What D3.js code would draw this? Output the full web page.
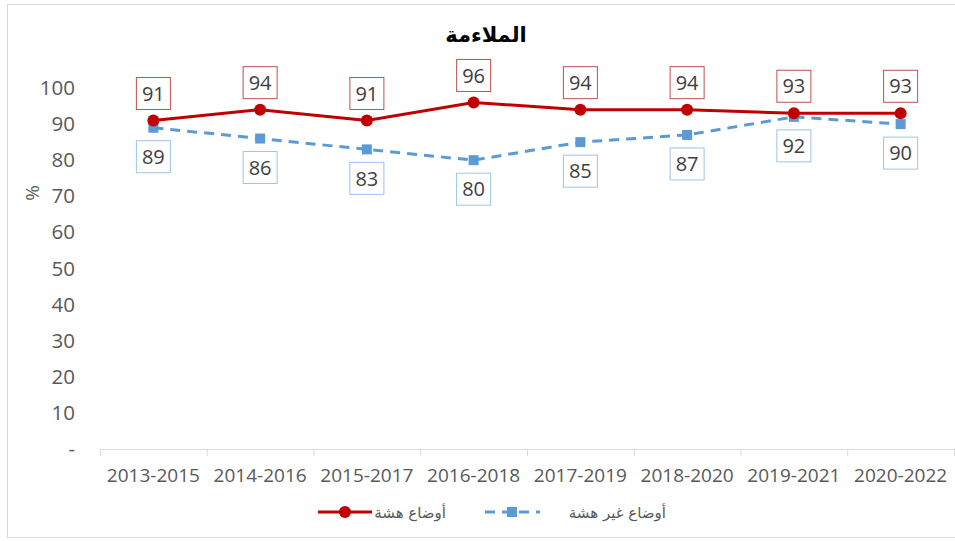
<!DOCTYPE html>
<html><head><meta charset="utf-8">
<script src="https://cdn.jsdelivr.net/npm/d3@7"></script>
<style>body{margin:0;background:#fff}svg{display:block}</style>
</head><body>
<script>
const categories = ["2013-2015","2014-2016","2015-2017","2016-2018","2017-2019","2018-2020","2019-2021","2020-2022"];
const fragile = [91,94,91,96,94,94,93,93];
const nonFragile = [89,86,83,80,85,87,92,90];
const yTicks = [0,10,20,30,40,50,60,70,80,90,100];
const title = "الملاءمة";
const seriesNames = ["أوضاع هشة","أوضاع غير هشة"];

const W=955,H=541;
const svg=d3.select("body").append("svg").attr("width",W).attr("height",H);
const font="'Open Sans', 'Liberation Sans', sans-serif";
svg.append("rect").attr("x",7.5).attr("y",4.5).attr("width",960).attr("height",533).attr("fill","#fff").attr("stroke","#d9d9d9");

const x=d3.scaleBand().domain(categories).range([100,954]);
const y=d3.scaleLinear().domain([0,100]).range([449,88]);

svg.append("text").attr("x",486).attr("y",42).attr("text-anchor","middle")
  .attr("font-family","'DejaVu Sans', sans-serif").attr("font-weight","bold").attr("font-size",21).attr("fill","#000").text(title);

// y axis labels
const ya=svg.append("g").attr("transform","translate(75,0)")
  .call(d3.axisLeft(y).tickValues(yTicks).tickSize(0).tickPadding(0).tickFormat(d=>d===0?"-":d));
ya.select(".domain").remove();
ya.selectAll("text").attr("font-family",font).attr("font-size",20.5).attr("fill","#595959");
svg.append("text").attr("transform","translate(39,193) rotate(-90)").attr("text-anchor","middle")
  .attr("font-family",font).attr("font-size",19).attr("fill","#595959").text("%");

// x axis
const xa=svg.append("g").attr("transform","translate(0,449)")
  .call(d3.axisBottom(x).tickSize(0).tickPadding(20));
xa.select(".domain").attr("stroke","#d9d9d9");
xa.selectAll("text").attr("font-family",font).attr("font-size",19).attr("fill","#595959");
const bounds=categories.map(c=>x(c)).concat([x.range()[1]]);
svg.append("g").selectAll("line").data(bounds).join("line")
  .attr("x1",d=>d+0.5).attr("x2",d=>d+0.5).attr("y1",449).attr("y2",456).attr("stroke","#d9d9d9");

const cx=c=>x(c)+x.bandwidth()/2;
const line=d3.line().x((d,i)=>cx(categories[i])).y(d=>y(d));

// blue
svg.append("path").datum(nonFragile).attr("d",line).attr("fill","none").attr("stroke","#5B9BD5")
  .attr("stroke-width",3).attr("stroke-dasharray","10,7");
svg.append("g").selectAll("rect").data(nonFragile).join("rect")
  .attr("x",(d,i)=>cx(categories[i])-5).attr("y",d=>y(d)-5).attr("width",10).attr("height",10).attr("fill","#5B9BD5");
// red
svg.append("path").datum(fragile).attr("d",line).attr("fill","none").attr("stroke","#C00000").attr("stroke-width",3);
svg.append("g").selectAll("circle").data(fragile).join("circle")
  .attr("cx",(d,i)=>cx(categories[i])).attr("cy",d=>y(d)).attr("r",6).attr("fill","#C00000");

// labels
function labels(data,color,above){
  const g=svg.append("g").selectAll("g").data(data).join("g")
    .attr("transform",(d,i)=>`translate(${cx(categories[i])},${above? y(d)-27 : y(d)+29})`);
  g.append("rect").attr("x",-17).attr("y",-16).attr("width",34).attr("height",32).attr("fill","#fff").attr("stroke",color);
  g.append("text").attr("text-anchor","middle").attr("dy","0.36em").attr("font-family",font).attr("font-size",20)
    .attr("fill","#404040").text(d=>d);
}
labels(fragile,"#C0504D",true);
labels(nonFragile,"#9DC3E6",false);

// legend
const lg=svg.append("g");
lg.append("line").attr("x1",318).attr("x2",372).attr("y1",512).attr("y2",512).attr("stroke","#C00000").attr("stroke-width",3);
lg.append("circle").attr("cx",345).attr("cy",512).attr("r",6).attr("fill","#C00000");
lg.append("text").attr("x",446).attr("y",518).attr("text-anchor","end").attr("font-family","'DejaVu Sans', sans-serif").attr("font-size",15)
  .attr("fill","#595959").text(seriesNames[0]);
lg.append("line").attr("x1",485).attr("x2",540).attr("y1",512).attr("y2",512).attr("stroke","#5B9BD5").attr("stroke-width",3).attr("stroke-dasharray","10,7");
lg.append("rect").attr("x",507).attr("y",507).attr("width",10).attr("height",10).attr("fill","#5B9BD5");
lg.append("text").attr("x",666).attr("y",518).attr("text-anchor","end").attr("font-family","'DejaVu Sans', sans-serif").attr("font-size",15)
  .attr("fill","#595959").text(seriesNames[1]);
</script>
</body></html>
